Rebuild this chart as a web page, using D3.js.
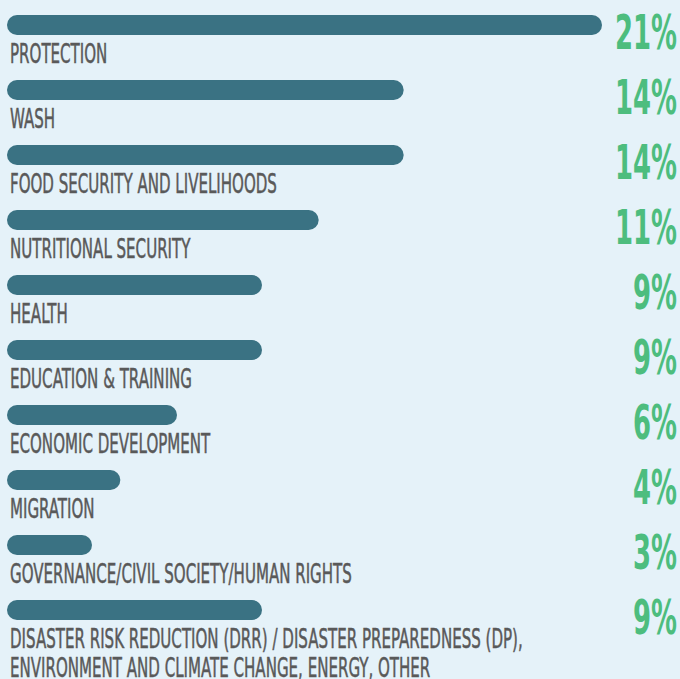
<!DOCTYPE html>
<html>
<head>
<meta charset="utf-8">
<script src="https://cdn.jsdelivr.net/npm/d3@7"></script>
<style>
  html, body { margin: 0; padding: 0; background: #e5f2f9; }
  svg { display: block; }
</style>
</head>
<body>
<script>
// Sector shares of funding, in percent
const sectors = [
  "PROTECTION",
  "WASH",
  "FOOD SECURITY AND LIVELIHOODS",
  "NUTRITIONAL SECURITY",
  "HEALTH",
  "EDUCATION & TRAINING",
  "ECONOMIC DEVELOPMENT",
  "MIGRATION",
  "GOVERNANCE/CIVIL SOCIETY/HUMAN RIGHTS",
  "DISASTER RISK REDUCTION (DRR) / DISASTER PREPAREDNESS (DP),\nENVIRONMENT AND CLIMATE CHANGE, ENERGY, OTHER"
];
const shares = [21, 14, 14, 11, 9, 9, 6, 4, 3, 9];

const W = 680, H = 679;
const rows = sectors.map((s, i) => ({ sector: s, share: shares[i] }));

const svg = d3.select("body").append("svg")
  .attr("width", W).attr("height", H);

svg.append("rect").attr("width", W).attr("height", H).attr("fill", "#e5f2f9");

const x = d3.scaleLinear().domain([0, 21]).range([7, 602]);
const y = d3.scaleBand().domain(sectors).range([15, 15 + 65 * sectors.length]).paddingInner(0).paddingOuter(0);

const barH = 20;
const labelScale = 0.62;
const pctScale = 0.6;

const g = svg.selectAll("g.row").data(rows).join("g").attr("class", "row")
  .attr("transform", d => `translate(0,${y(d.sector)})`);

g.append("rect")
  .attr("x", x(0))
  .attr("y", 0)
  .attr("width", d => x(d.share) - x(0))
  .attr("height", barH)
  .attr("rx", barH / 2)
  .attr("fill", "#3a7283");

const lab = g.append("text")
  .attr("transform", `translate(10,47.5) scale(${labelScale},1)`)
  .attr("font-family", "'DejaVu Sans Condensed', 'DejaVu Sans', sans-serif")
  .attr("font-stretch", "condensed")
  .attr("font-size", 27)
  .attr("fill", "#595959")
  .attr("stroke", "#595959")
  .attr("stroke-width", 0.5);

lab.selectAll("tspan")
  .data(d => d.sector.split("\n"))
  .join("tspan")
  .attr("x", 0)
  .attr("dy", (d, i) => i === 0 ? 0 : 30)
  .text(d => d);

g.append("text")
  .attr("transform", `translate(677,34) scale(${pctScale},1)`)
  .attr("text-anchor", "end")
  .attr("font-family", "'DejaVu Sans Condensed', 'DejaVu Sans', sans-serif")
  .attr("font-stretch", "condensed")
  .attr("font-weight", "bold")
  .attr("font-size", 48)
  .attr("fill", "#4dbd7e")
  .text(d => d.share + "%");
</script>
</body>
</html>
